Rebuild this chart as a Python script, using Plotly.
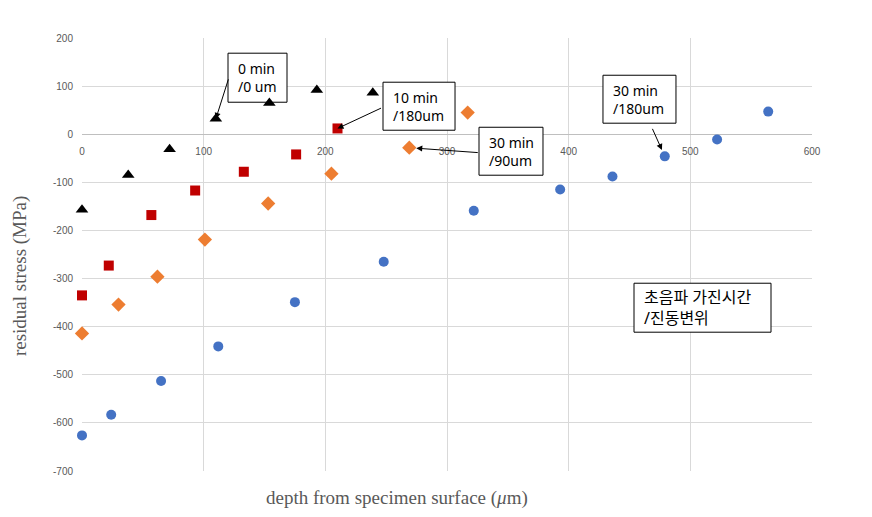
import plotly.graph_objects as go

# ---- data ----
x_0min = [0, 38, 72, 110, 154, 193, 239]
y_0min = [-157, -85, -31, 32, 65, 92, 86]

x_10min = [0, 22, 57, 93, 133, 176, 210]
y_10min = [-335, -273, -168, -117, -78, -42, 12]

x_30min90 = [0, 30, 62, 101, 153, 205, 269, 317]
y_30min90 = [-414, -354, -296, -219, -144, -82, -28, 45]

x_30min180 = [0, 24, 65, 112, 175, 248, 322, 393, 436, 479, 522, 564]
y_30min180 = [-626, -583, -513, -441, -349, -265, -159, -115, -88, -46, -11, 47]

x_ticks = [0, 100, 200, 300, 400, 500, 600]
y_ticks = [200, 100, 0, -100, -200, -300, -400, -500, -600, -700]

x_title = "depth from specimen surface (<i>μ</i>m)"
y_title = "residual stress (MPa)"

fig = go.Figure()
fig.add_trace(go.Scatter(x=x_30min180, y=y_30min180, mode="markers", name="30 min /180um",
                         cliponaxis=False,
                         marker=dict(symbol="circle", size=10, color="#4472C4")))
fig.add_trace(go.Scatter(x=x_30min90, y=y_30min90, mode="markers", name="30 min /90um",
                         cliponaxis=False,
                         marker=dict(symbol="diamond", size=11, color="#ED7D31")))
fig.add_trace(go.Scatter(x=x_10min, y=y_10min, mode="markers", name="10 min /180um",
                         cliponaxis=False,
                         marker=dict(symbol="square", size=10, color="#C00000")))
fig.add_trace(go.Scatter(x=x_0min, y=y_0min, mode="markers", name="0 min /0 um",
                         cliponaxis=False,
                         marker=dict(symbol="triangle-up", size=11, color="#000000")))

shapes = []

def box(text, x0, x1, y0, y1, size=14):
    shapes.append(dict(type="rect", xref="x", yref="y", x0=x0, x1=x1, y0=y0, y1=y1,
                       line=dict(color="#000000", width=1), fillcolor="#FFFFFF",
                       layer="between"))
    return dict(text=text, x=x0, y=(y0 + y1) / 2, xref="x", yref="y", showarrow=False,
                xanchor="left", yanchor="middle", xshift=8,
                align="left", valign="middle",
                font=dict(family="Noto Sans, Noto Sans CJK KR", size=size, color="#000000"))

def arrow(x, y, ax, ay, standoff=0):
    return dict(text="", x=x, y=y, xref="x", yref="y", ax=ax, ay=ay,
                showarrow=True, arrowhead=2, arrowsize=1.2, arrowwidth=1,
                arrowcolor="#000000", standoff=standoff)

annotations = [
    arrow(x_0min[3], y_0min[3], 13, -41),
    arrow(x_10min[6], y_10min[6], 45, -21),
    arrow(x_30min90[6], y_30min90[6], 70, 5, standoff=7),
    arrow(x_30min180[9], y_30min180[9], -13, -29, standoff=7),
    box("0 min<br>/0 um", 120.0, 168.5, 66.5, 168.4),
    box("10 min<br>/180um", 247.4, 306.6, 8.3, 108.1),
    box("30 min<br>/90um", 326.3, 378.9, -85.2, 14.5),
    box("30 min<br>/180um", 428.2, 488.2, 22.9, 122.6),
    box("초음파 가진시간<br>/진동변위", 453.7, 566.3, -411.5, -309.7, size=16),
    dict(text=y_title, xref="paper", yref="paper", x=-0.0856, y=0.449,
         xanchor="center", yanchor="middle",
         showarrow=False, textangle=-90,
         font=dict(family="Liberation Serif, serif", size=19, color="#595959")),
    dict(text=x_title, xref="paper", yref="paper", x=0.4315, y=-0.062,
         xanchor="center", yanchor="middle",
         showarrow=False,
         font=dict(family="Liberation Serif, serif", size=19, color="#595959")),
]

tick_font = dict(family="Liberation Sans, Arial", size=10, color="#595959")

fig.update_layout(
    width=864, height=509,
    margin=dict(l=74, r=60, t=30, b=46),
    paper_bgcolor="#FFFFFF", plot_bgcolor="#FFFFFF",
    showlegend=False,
    annotations=annotations,
    shapes=shapes,
    xaxis=dict(range=[0, 600], tickvals=x_ticks, ticktext=[str(v) for v in x_ticks],
               showgrid=True, gridcolor="#D9D9D9", gridwidth=1,
               zeroline=False, showline=False,
               anchor="free", position=700 / 900, ticks="",
               ticklabelstandoff=10, tickfont=tick_font),
    yaxis=dict(range=[-700, 200], tickvals=y_ticks, ticktext=[str(v) for v in y_ticks],
               showgrid=True, gridcolor="#D9D9D9", gridwidth=1,
               zeroline=True, zerolinecolor="#BFBFBF", zerolinewidth=1,
               showline=False, ticks="", ticklabelstandoff=8, tickfont=tick_font),
)

fig.write_html("out.html")
